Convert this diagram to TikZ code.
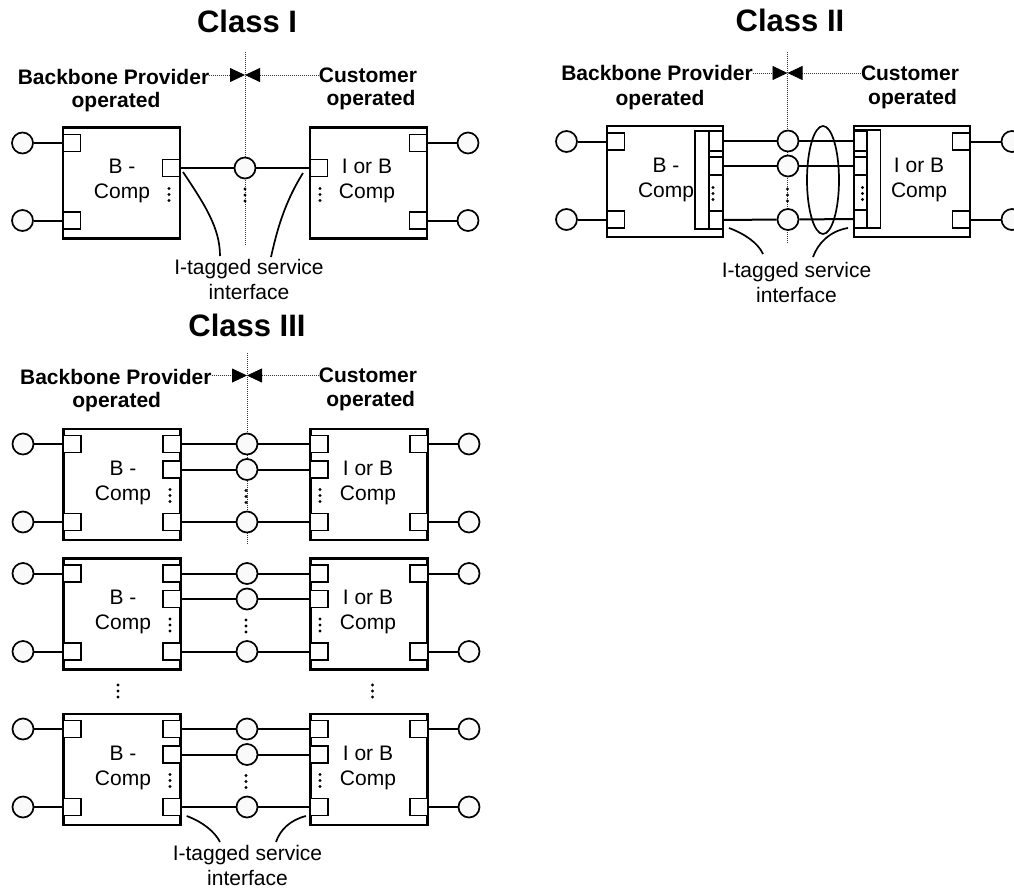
\documentclass[tikz,border=0pt]{standalone}
\usepackage{fontspec}
\setmainfont{Liberation Sans}
\usetikzlibrary{arrows.meta,shapes.geometric,calc}
\tikzset{
  box/.style={draw, line width=2.3pt, minimum width=117pt, minimum height=111pt, inner sep=0pt},
  port/.style={draw, line width=1.7pt, fill=white, minimum width=17.5pt, minimum height=17pt, inner sep=0pt},
  cell/.style={draw, line width=1.7pt, fill=white, inner sep=0pt},
  term/.style={circle, draw, line width=1.7pt, fill=black!2, minimum size=21pt, inner sep=0pt},
  link/.style={line width=2pt},
  guide/.style={dash pattern=on 1pt off 1pt, line width=0.8pt, black!80},
  divtip/.style={-{Triangle[length=15pt,width=14pt,color=black]}},
  ttl/.style={font=\fontsize{31}{36}\selectfont\bfseries, inner sep=0pt},
  side/.style={font=\fontsize{21}{25}\selectfont\bfseries, inner sep=0pt},
  comptext/.style={font=\fontsize{21}{25}\selectfont, align=center, inner sep=0pt},
  lbl/.style={font=\fontsize{21}{25}\selectfont, align=center, inner sep=0pt},
  curve/.style={line width=1.7pt},
  ring/.style={ellipse, draw, line width=1.7pt, inner sep=0pt}
}
\newcommand\vdotsat[2]{\foreach \k in {-1,0,1}{\fill ({#1},{#2+6*\k}) circle (1.6pt);}}
\begin{document}
\begin{tikzpicture}[x=1pt,y=-1pt]
\useasboundingbox (0,0) rectangle (1014,888);
\clip (0,0) rectangle (1014,888);

%% ================= Class I =================
\node[ttl] (t1) at (247,21) {Class I};
\node[side] (bp1) at (113.5,77) {Backbone Provider};
\node[side] (bo1) at (116,102) {operated};
\node[side] (cu1) at (368,75) {Customer};
\node[side] (co1) at (371,100) {operated};
\coordinate (d1) at (245,75);
\coordinate (v1t) at (245,52);
\coordinate (v1b) at (245,245);
\draw[guide] (v1t) -- (v1b);
\draw[guide,divtip] (bp1.east |- d1) -- (d1);
\draw[guide,divtip] (cu1.west |- d1) -- (d1);

\node[box] (A1) at (121.5,183) {};
\node[comptext] (A1t) at (122,181) {B -\\Comp};
\node[box] (B1) at (368.5,183) {};
\node[comptext] (B1t) at (367,181) {I or B\\Comp};

\node[port] (A1l1) at (71.75,143) {};
\node[port] (A1l2) at (71.75,220.5) {};
\node[port] (A1r1) at (171.25,168) {};
\node[port] (B1l1) at (318.75,168) {};
\node[port] (B1r1) at (418.25,143) {};
\node[port] (B1r2) at (418.25,220.5) {};

\node[term] (A1c1) at (22.5,143) {};
\node[term] (A1c2) at (22.5,220.5) {};
\node[term] (B1c1) at (468,143) {};
\node[term] (B1c2) at (468,220.5) {};
\node[term] (M1) at (245,168) {};

\draw[link] (A1c1) -- (A1l1);
\draw[link] (A1c2) -- (A1l2);
\draw[link] (B1r1) -- (B1c1);
\draw[link] (B1r2) -- (B1c2);
\draw[link] (A1r1) -- (M1);
\draw[link] (M1) -- (B1l1);

\vdotsat{169}{194.5}
\vdotsat{245}{195}
\vdotsat{320}{194.5}

\node[lbl] (L1) at (249,279.5) {I-tagged service\\interface};
\coordinate (c1a) at (183,172);
\coordinate (c1ae) at (220,256);
\coordinate (c1b) at (303,173);
\coordinate (c1be) at (271,257);
\draw[curve] (c1a) .. controls (205,205) and (220,228) .. (c1ae);
\draw[curve] (c1b) .. controls (283,205) and (276,235) .. (c1be);

%% ================= Class II =================
\node[ttl] (t2) at (790,20) {Class II};
\node[side] (bp2) at (657,73) {Backbone Provider};
\node[side] (bo2) at (660,100) {operated};
\node[side] (cu2) at (910,73) {Customer};
\node[side] (co2) at (912.5,99) {operated};
\coordinate (d2) at (787.5,73);
\coordinate (v2t) at (787.5,52);
\coordinate (v2b) at (787.5,243);
\draw[guide] (v2t) -- (v2b);
\draw[guide,divtip] (bp2.east |- d2) -- (d2);
\draw[guide,divtip] (cu2.west |- d2) -- (d2);

\node[box, minimum width=116.5pt, minimum height=111.5pt] (A2) at (665,181.5) {};
\node[comptext] (A2t) at (666,179.5) {B -\\Comp};
\node[box, minimum width=116pt, minimum height=111.5pt] (B2) at (912,181.5) {};
\node[comptext] (B2t) at (919,179.5) {I or B\\Comp};

\node[port] (A2l1) at (615.75,141.5) {};
\node[port] (A2l2) at (615.75,219.5) {};
\node[port] (B2r1) at (961.25,141.5) {};
\node[port] (B2r2) at (961.25,219.5) {};

% stacked interface of the left component
\node[cell, minimum width=14pt, minimum height=98pt] (A2bar) at (702,180) {};
\node[cell, minimum width=14pt, minimum height=98pt] (A2stk) at (716,180) {};
\node[cell, minimum width=14pt, minimum height=20pt] (A2p1) at (716,141) {};
\node[cell, minimum width=14pt, minimum height=18pt] (A2p2) at (716,166) {};
\node[cell, minimum width=14pt, minimum height=18pt] (A2p3) at (716,220) {};
% stacked interface of the right component
\node[cell, minimum width=14pt, minimum height=98pt] (B2bar) at (873.5,179) {};
\node[cell, minimum width=13pt, minimum height=98pt] (B2stk) at (860.5,179) {};
\node[cell, minimum width=13pt, minimum height=20pt] (B2p1) at (860.5,141) {};
\node[cell, minimum width=13pt, minimum height=18pt] (B2p2) at (860.5,166) {};
\node[cell, minimum width=13pt, minimum height=18pt] (B2p3) at (860.5,219) {};

\node[term] (A2c1) at (566.5,141.5) {};
\node[term] (A2c2) at (566.5,219.5) {};
\node[term] (B2c1) at (1012,141.5) {};
\node[term] (B2c2) at (1012,219.5) {};
\node[term] (M21) at (788,141) {};
\node[term] (M22) at (788,166) {};
\node[term] (M23) at (788,219.5) {};

\draw[link] (A2c1) -- (A2l1);
\draw[link] (A2c2) -- (A2l2);
\draw[link] (B2r1) -- (B2c1);
\draw[link] (B2r2) -- (B2c2);
\draw[link] (A2p1) -- (M21);
\draw[link] (M21) -- (B2p1);
\draw[link] (A2p2) -- (M22);
\draw[link] (M22) -- (B2p2);
\draw[link] (A2p3) -- (M23);
\draw[link] (M23) -- (B2p3);

\vdotsat{713}{193.5}
\vdotsat{862.5}{193.5}
\vdotsat{787.5}{195}

\node[ring, minimum width=32pt, minimum height=108pt] (E2) at (823,180) {};

\node[lbl] (L2) at (796.5,282) {I-tagged service\\interface};
\coordinate (c2a) at (729,228);
\coordinate (c2ae) at (763,254);
\coordinate (c2b) at (848,228);
\coordinate (c2be) at (813,257);
\draw[curve] (c2a) .. controls (745,234) and (758,243) .. (c2ae);
\draw[curve] (c2b) .. controls (830,231) and (818,243) .. (c2be);

%% ================= Class III =================
\node[ttl] (t3) at (247,325) {Class III};
\node[side] (bp3) at (115.8,376.7) {Backbone Provider};
\node[side] (bo3) at (116.7,401.7) {operated};
\node[side] (cu3) at (368,375) {Customer};
\node[side] (co3) at (370.7,400.7) {operated};
\coordinate (d3) at (247,375.5);
\coordinate (v3t) at (247,353);
\coordinate (v3b) at (247,545);
\draw[guide] (v3t) -- (v3b);
\draw[guide,divtip] (bp3.east |- d3) -- (d3);
\draw[guide,divtip] (cu3.west |- d3) -- (d3);

\foreach \n/\ya in {r1/444,r2/573.5,r3/729}{
  \pgfmathsetmacro\yb{\ya+25.5}
  \pgfmathsetmacro\yc{\ya+78}
  \pgfmathsetmacro\yo{\ya+40.5}
  \pgfmathsetmacro\yt{\ya+38.5}
  \pgfmathsetmacro\yd{\ya+51.5}
  \pgfmathsetmacro\ym{\ya+52.5}
  \node[box] (\n A) at (122,\yo) {};
  \node[comptext] (\n At) at (123,\yt) {B -\\Comp};
  \node[box] (\n B) at (369,\yo) {};
  \node[comptext] (\n Bt) at (368,\yt) {I or B\\Comp};
  \node[port] (\n Al1) at (72.25,\ya) {};
  \node[port] (\n Al2) at (72.25,\yc) {};
  \node[port] (\n Ar1) at (171.75,\ya) {};
  \node[port] (\n Ar2) at (171.75,\yb) {};
  \node[port] (\n Ar3) at (171.75,\yc) {};
  \node[port] (\n Bl1) at (319.25,\ya) {};
  \node[port] (\n Bl2) at (319.25,\yb) {};
  \node[port] (\n Bl3) at (319.25,\yc) {};
  \node[port] (\n Br1) at (418.75,\ya) {};
  \node[port] (\n Br2) at (418.75,\yc) {};
  \node[term] (\n Ac1) at (23,\ya) {};
  \node[term] (\n Ac2) at (23,\yc) {};
  \node[term] (\n Bc1) at (469,\ya) {};
  \node[term] (\n Bc2) at (469,\yc) {};
  \node[term] (\n M1) at (247,\ya) {};
  \node[term] (\n M2) at (247,\yb) {};
  \node[term] (\n M3) at (247,\yc) {};
  \draw[link] (\n Ac1) -- (\n Al1);
  \draw[link] (\n Ac2) -- (\n Al2);
  \draw[link] (\n Br1) -- (\n Bc1);
  \draw[link] (\n Br2) -- (\n Bc2);
  \draw[link] (\n Ar1) -- (\n M1);
  \draw[link] (\n M1) -- (\n Bl1);
  \draw[link] (\n Ar2) -- (\n M2);
  \draw[link] (\n M2) -- (\n Bl2);
  \draw[link] (\n Ar3) -- (\n M3);
  \draw[link] (\n M3) -- (\n Bl3);
  \vdotsat{170}{\yd}
  \vdotsat{320}{\yd}
  \vdotsat{246}{\ym}
}
\vdotsat{118}{691}
\vdotsat{372.5}{691}

\node[lbl] (L3) at (247.5,865) {I-tagged service\\interface};
\coordinate (c3a) at (186.7,816);
\coordinate (c3ae) at (220,842);
\coordinate (c3b) at (306,816);
\coordinate (c3be) at (276,842);
\draw[curve] (c3a) .. controls (203,822) and (215,832) .. (c3ae);
\draw[curve] (c3b) .. controls (290,820) and (280,830) .. (c3be);
\end{tikzpicture}
\end{document}
